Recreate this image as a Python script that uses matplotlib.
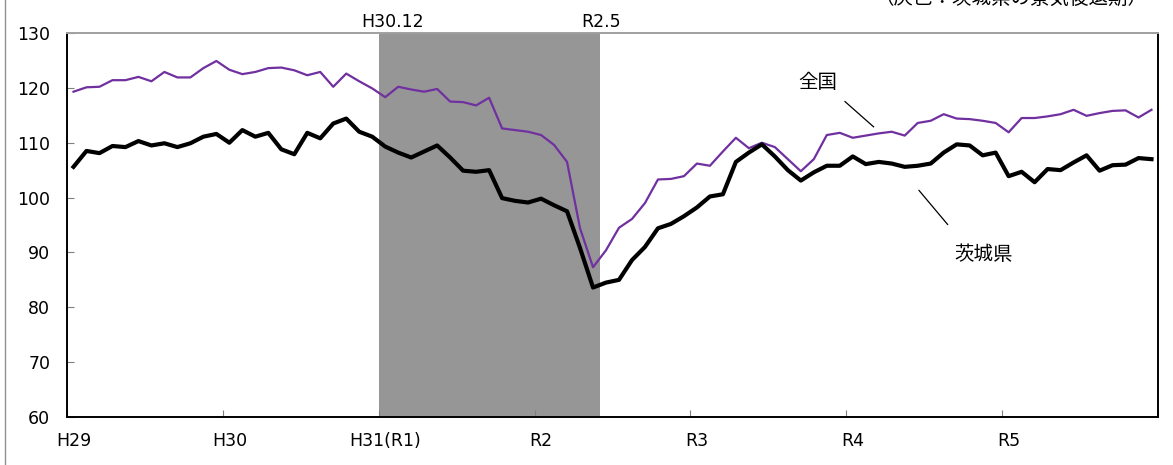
import matplotlib
matplotlib.use("Agg")
import matplotlib.pyplot as plt
import numpy as np
from matplotlib.lines import Line2D

plt.rcParams["font.family"] = ["DejaVu Sans", "Noto Sans CJK JP"]
plt.rcParams["font.size"] = 12

# monthly index, H29.1 (2017/01) .. R5.12 (2023/12)
zenkoku = [
    119.3, 120.1, 120.2, 121.4, 121.4, 122.0, 121.2, 122.9, 121.9, 121.9, 123.6, 124.9,
    123.3, 122.5, 122.9, 123.6, 123.7, 123.2, 122.3, 122.9, 120.2, 122.6, 121.2, 119.9,
    118.3, 120.2, 119.7, 119.3, 119.8, 117.5, 117.4, 116.8, 118.2, 112.6, 112.3, 112.0,
    111.4, 109.6, 106.5, 94.4, 87.3, 90.4, 94.5, 96.1, 99.0, 103.3, 103.4, 103.9,
    106.2, 105.8, 108.4, 110.9, 109.0, 110.0, 109.2, 107.0, 104.8, 107.0, 111.4, 111.8,
    110.9, 111.3, 111.7, 112.0, 111.3, 113.6, 114.0, 115.2, 114.4, 114.3, 114.0, 113.6,
    111.9, 114.5, 114.5, 114.8, 115.2, 116.0, 114.9, 115.4, 115.8, 115.9, 114.6, 116.0,
]
ibaraki = [
    105.6, 108.5, 108.1, 109.4, 109.2, 110.3, 109.5, 109.9, 109.2, 109.9, 111.1, 111.6,
    110.0, 112.3, 111.1, 111.8, 108.8, 107.9, 111.8, 110.8, 113.5, 114.4, 112.0, 111.1,
    109.3, 108.2, 107.3, 108.4, 109.5, 107.3, 104.9, 104.7, 105.0, 99.9, 99.4, 99.1,
    99.8, 98.6, 97.5, 90.8, 83.6, 84.5, 85.0, 88.6, 91.0, 94.4, 95.2, 96.6,
    98.2, 100.2, 100.6, 106.5, 108.2, 109.7, 107.5, 105.0, 103.1, 104.6, 105.8, 105.8,
    107.5, 106.1, 106.5, 106.2, 105.6, 105.8, 106.2, 108.2, 109.7, 109.5, 107.7, 108.2,
    103.9, 104.7, 102.8, 105.2, 105.0, 106.4, 107.7, 104.9, 105.9, 106.0, 107.2, 107.0,
]
year_labels = ["H29", "H30", "H31(R1)", "R2", "R3", "R4", "R5"]
recession = (24, 41)  # months from H29.1: after H30.12 peak to R2.5 trough
recession_labels = ["H30.12", "R2.5"]

x = np.arange(len(zenkoku)) + 0.5

fig = plt.figure(figsize=(11.73, 4.65), dpi=100)
ax = fig.add_axes([67 / 1173, 48 / 465, 1091 / 1173, 384 / 465])

ax.axvspan(recession[0], recession[1], color="#969696", lw=0, zorder=0)
ax.plot(x, zenkoku, color="#7030A0", lw=1.6, solid_joinstyle="round", zorder=2)
ax.plot(x, ibaraki, color="black", lw=3.0, solid_joinstyle="round", zorder=3)

ax.set_xlim(0, 84)
ax.set_ylim(60, 130)
ax.set_yticks(np.arange(60, 131, 10))
ax.tick_params(axis="y", direction="in", length=5, width=0.8, color="#808080",
               pad=12, labelsize=12.5)

ax.set_xticks(np.arange(0, 85, 12))
ax.set_xticklabels([])
ax.tick_params(axis="x", which="major", direction="in", length=5, width=0.8,
               color="#808080")
ax.set_xticks(np.arange(0, 84, 12) + 0.5, minor=True)
ax.set_xticklabels(year_labels, minor=True)
ax.tick_params(axis="x", which="minor", length=0, pad=11, labelsize=12.5)

for side in ["left", "bottom", "right"]:
    ax.spines[side].set_color("black")
    ax.spines[side].set_linewidth(1.4)
ax.spines["top"].set_color("#a0a0a0")
ax.spines["top"].set_linewidth(1.4)

# recession period labels above the axes
ax.text(25.1, 130.3, recession_labels[0], ha="center", va="bottom", fontsize=12.5)
ax.text(41.1, 130.3, recession_labels[1], ha="center", va="bottom", fontsize=12.5)

# series labels with leader lines
ax.text(57.8, 121.0, "全国", ha="center", va="center", fontsize=14)
ax.plot([59.9, 62.1], [117.5, 112.9], color="black", lw=0.9)
ax.text(70.6, 89.6, "茨城県", ha="center", va="center", fontsize=14)
ax.plot([65.6, 67.8], [101.3, 95.1], color="black", lw=0.9)

# partly cut-off note at top right
fig.text(1011 / 1173, 1 - 8 / 465, "（灰色：茨城県の景気後退期）", ha="center",
         va="bottom", fontsize=14)

fig.add_artist(Line2D([4.5 / 1173, 4.5 / 1173], [0, 1], color="#909090", lw=1.0))

fig.savefig("out.png", dpi=100)
